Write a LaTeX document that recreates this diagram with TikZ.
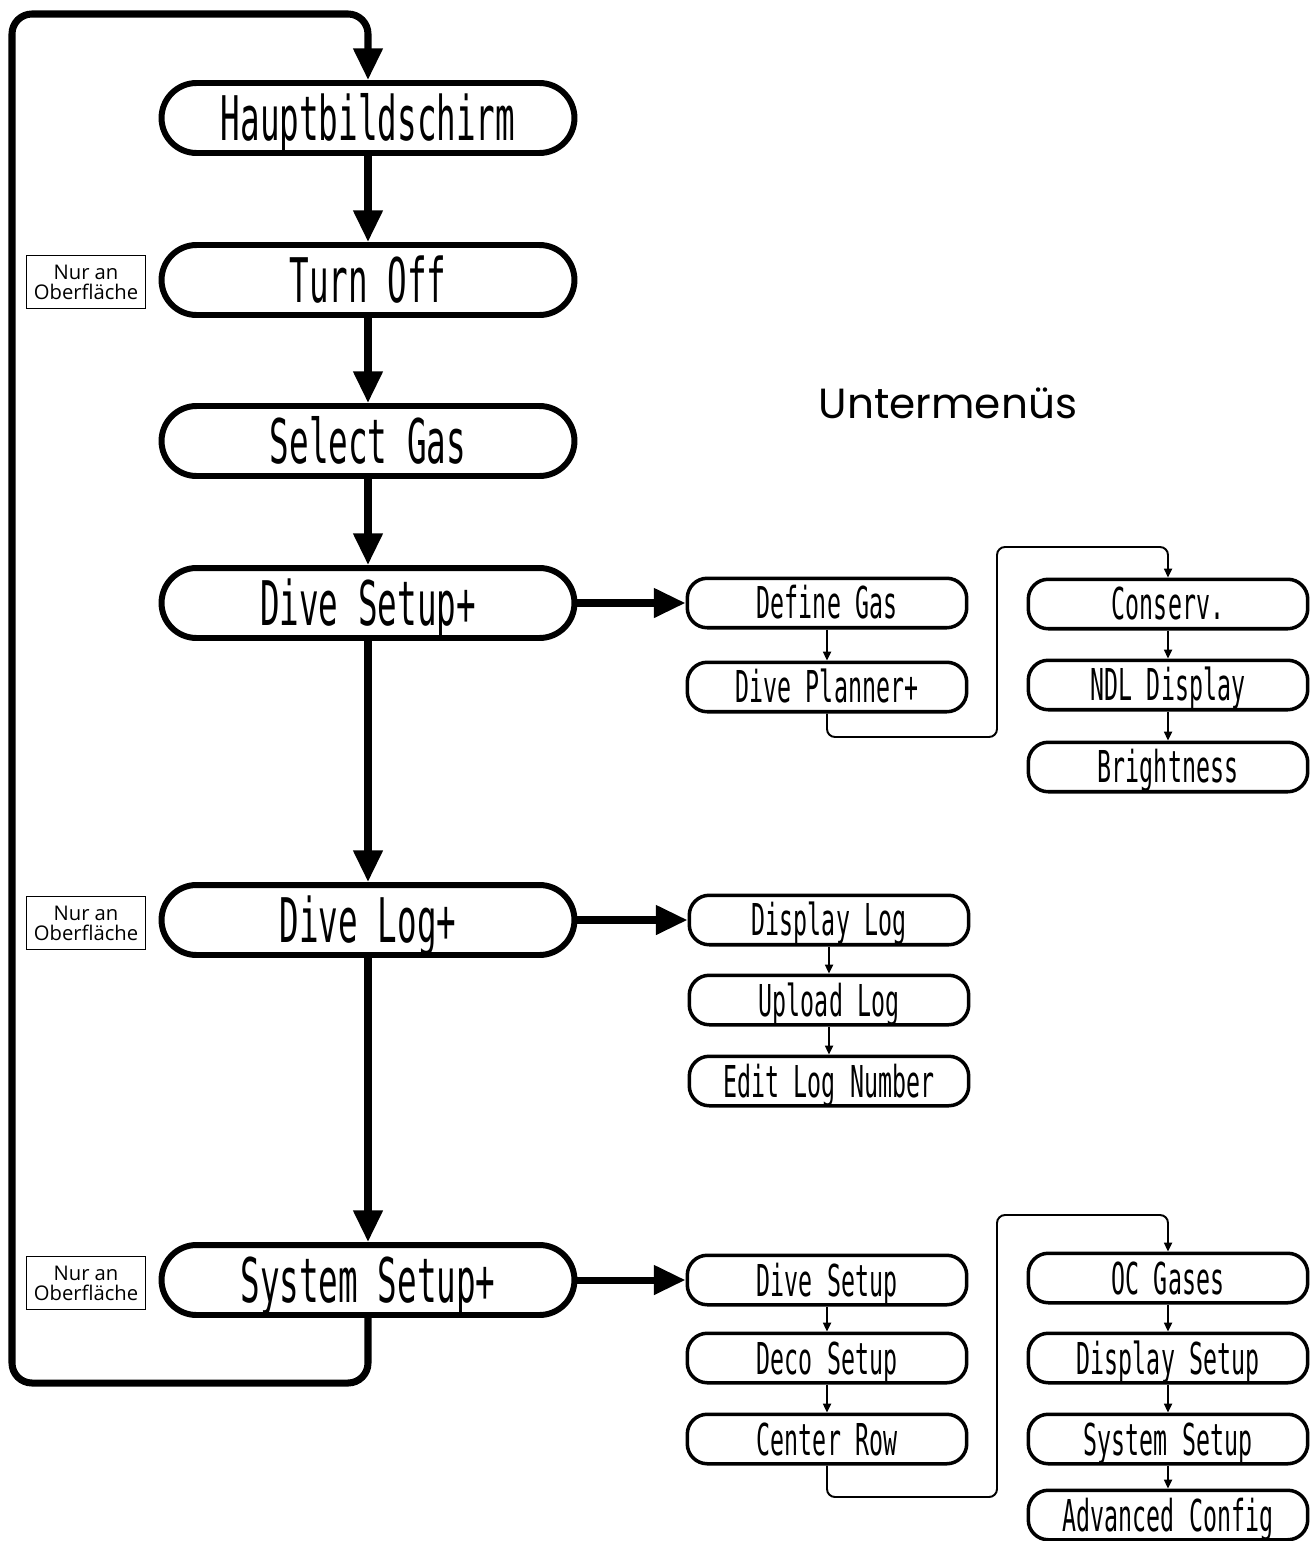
\documentclass[tikz,border=0pt]{standalone}
\usepackage{fontspec}
\usetikzlibrary{arrows.meta}
\newfontfamily\lcdfont[FakeStretch=0.53]{DejaVu Sans Mono}
\newfontfamily\notefont{Open Sans}
\newfontfamily\headfont{Poppins}

\tikzset{
  mainbox/.style={draw, line width=3.4pt, rounded corners=0.7cm,
    minimum width=8.26cm, minimum height=1.4cm, inner sep=0pt,
    font=\lcdfont\fontsize{35}{35}\selectfont, text height=25.5pt, text depth=0pt},
  subbox/.style={draw, line width=2pt, rounded corners=0.4cm,
    minimum width=5.59cm, minimum height=0.99cm, inner sep=0pt,
    font=\lcdfont\fontsize{25}{25}\selectfont, text height=18.2pt, text depth=0pt},
  notebox/.style={draw, line width=0.7pt, minimum width=2.38cm, minimum height=1.06cm,
    inner sep=0pt, align=center, font=\notefont\fontsize{11.5}{11.5}\selectfont},
  mainarrow/.style={line width=4pt, -{Triangle[length=18pt,width=16pt]}},
  subarrow/.style={line width=1.1pt, -{Triangle[length=5pt,width=4.5pt]}},
}

\begin{document}
\begin{tikzpicture}[x=0.02cm, y=-0.02cm]
  \useasboundingbox (0,0) rectangle (1312,1541);

  % main menu
  \node[mainbox] (haupt) at (368,118) {Hauptbildschirm};
  \node[mainbox] (turnoff) at (368,280) {Turn Off};
  \node[mainbox] (selgas) at (368,441) {Select Gas};
  \node[mainbox] (divesetup) at (368,603) {Dive Setup+};
  \node[mainbox] (divelog) at (368,920) {Dive Log+};
  \node[mainbox] (syssetup) at (368,1280) {System Setup+};

  \node[notebox] (note1) at (86,282) {Nur an\\Oberfläche};
  \node[notebox] (note2) at (86,923) {Nur an\\Oberfläche};
  \node[notebox] (note3) at (86,1283) {Nur an\\Oberfläche};

  \node[font=\headfont\fontsize{24}{24}\selectfont] (title) at (948,403) {Untermenüs};

  % dive setup submenu
  \node[subbox] (defgas) at (827,603) {Define Gas};
  \node[subbox] (planner) at (827,687) {Dive Planner+};
  \node[subbox] (conserv) at (1168,604) {Conserv.};
  \node[subbox] (ndl) at (1168,685) {NDL Display};
  \node[subbox] (bright) at (1168,767) {Brightness};

  % dive log submenu
  \node[subbox] (displog) at (829,920) {Display Log};
  \node[subbox] (uplog) at (829,1000) {Upload Log};
  \node[subbox] (editlog) at (829,1081) {Edit Log Number};

  % system setup submenu
  \node[subbox] (sysdive) at (827,1280) {Dive Setup};
  \node[subbox] (sysdeco) at (827,1358) {Deco Setup};
  \node[subbox] (center) at (827,1439) {Center Row};
  \node[subbox] (ocgas) at (1168,1278) {OC Gases};
  \node[subbox] (dispset) at (1168,1358) {Display Setup};
  \node[subbox] (sysset) at (1168,1439) {System Setup};
  \node[subbox] (advconf) at (1168,1515) {Advanced Config};

  % main arrows
  \draw[mainarrow] (haupt) -- (turnoff);
  \draw[mainarrow] (turnoff) -- (selgas);
  \draw[mainarrow] (selgas) -- (divesetup);
  \draw[mainarrow] (divesetup) -- (divelog);
  \draw[mainarrow] (divelog) -- (syssetup);
  \draw[mainarrow] (divesetup) -- (defgas);
  \draw[mainarrow] (divelog) -- (displog);
  \draw[mainarrow] (syssetup) -- (sysdive);

  \coordinate (looptop) at (368,14);
  \draw[mainarrow, rounded corners=0.4cm] (syssetup.south) |- (12,1383) |- (looptop) -- (haupt.north);

  % sub arrows
  \draw[subarrow] (defgas) -- (planner);
  \draw[subarrow] (conserv) -- (ndl);
  \draw[subarrow] (ndl) -- (bright);
  \draw[subarrow, rounded corners=0.16cm] (planner.south) |- (997,737) -- (997,547) -| (conserv.north);

  \draw[subarrow] (displog) -- (uplog);
  \draw[subarrow] (uplog) -- (editlog);

  \draw[subarrow] (sysdive) -- (sysdeco);
  \draw[subarrow] (sysdeco) -- (center);
  \draw[subarrow] (ocgas) -- (dispset);
  \draw[subarrow] (dispset) -- (sysset);
  \draw[subarrow] (sysset) -- (advconf);
  \draw[subarrow, rounded corners=0.16cm] (center.south) |- (997,1497) -- (997,1215) -| (ocgas.north);
\end{tikzpicture}
\end{document}
